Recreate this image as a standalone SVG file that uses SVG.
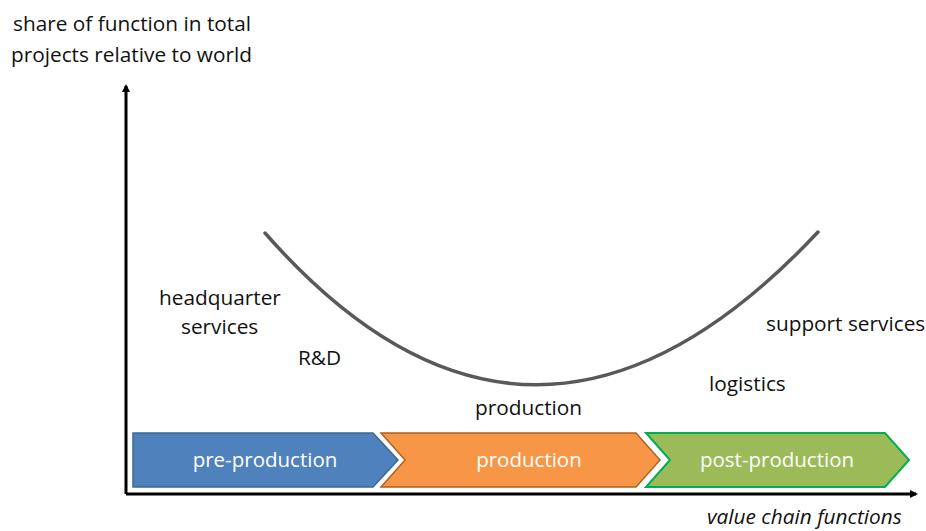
<svg xmlns="http://www.w3.org/2000/svg" width="926" height="531" viewBox="0 0 926 531">
  <style>
    text { font-family: "Open Sans", "Liberation Sans", sans-serif; font-size: 20.8px; fill: #111111; }
    .in { fill: #ffffff; text-anchor: middle; font-size: 20.5px; }
    .axis { stroke: #000; stroke-width: 3; fill: none; }
  </style>
  <defs>
    <marker id="arr" markerWidth="8" markerHeight="8" refX="6" refY="4" orient="auto" markerUnits="userSpaceOnUse">
      <path d="M0,0 L8,4 L0,8 Z" fill="#000"/>
    </marker>
  </defs>

  <rect width="926" height="531" fill="#ffffff"/>

  <!-- axis titles -->
  <text x="13" y="31">share of function in total</text>
  <text x="11" y="62">projects relative to world</text>
  <text x="707" y="524" font-style="italic" font-size="21.5px">value chain functions</text>

  <!-- axes -->
  <g id="axes">
    <path class="axis" d="M126,494 L126,86" marker-end="url(#arr)"/>
    <path class="axis" d="M126,494 L916,494" marker-end="url(#arr)"/>
  </g>

  <!-- smile curve -->
  <g id="curve">
    <path d="M265,233 Q532,537 818,232" fill="none" stroke="#595959" stroke-width="3.5" stroke-linecap="round"/>
  </g>

  <!-- function labels -->
  <g id="labels">
    <text x="159" y="305">headquarter</text>
    <text x="181" y="334">services</text>
    <text x="298" y="365">R&amp;D</text>
    <text x="475" y="415">production</text>
    <text x="709" y="391">logistics</text>
    <text x="766" y="331">support services</text>
  </g>

  <!-- value chain chevrons -->
  <g id="pre-production">
    <path d="M133,433 L373,433 L398,460 L373,487 L133,487 Z" fill="#4F81BD" stroke="#3A6896" stroke-width="1.5"/>
    <text class="in" x="265" y="467">pre-production</text>
  </g>
  <g id="production">
    <path d="M381,433 L636,433 L660,460 L636,487 L381,487 L405,460 Z" fill="#F79646" stroke="#B0621F" stroke-width="1.5"/>
    <text class="in" x="529" y="467">production</text>
  </g>
  <g id="post-production">
    <path d="M646,433 L885,433 L909,460 L885,487 L646,487 L670,460 Z" fill="#9BBB59" stroke="#00B050" stroke-width="2"/>
    <text class="in" x="777" y="467">post-production</text>
  </g>
</svg>
